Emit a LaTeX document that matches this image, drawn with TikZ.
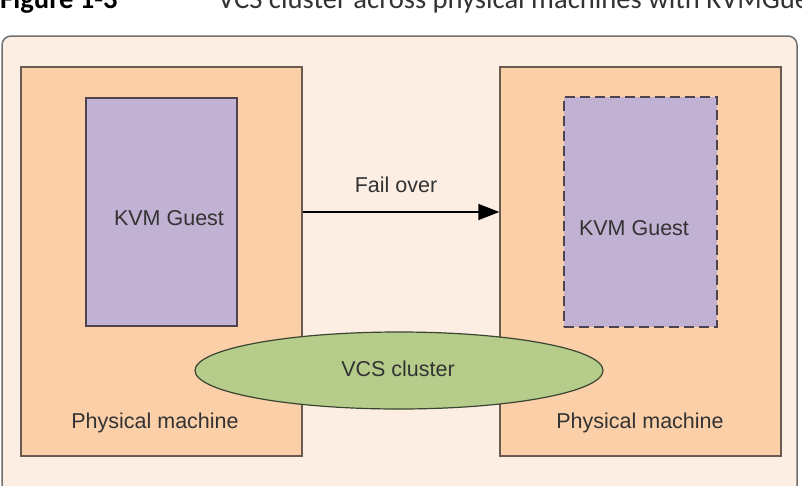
\documentclass[tikz,border=0pt]{standalone}
\usepackage{fontspec}
\setmainfont{Liberation Sans}
\newfontfamily\titlefont{Carlito}
\usetikzlibrary{shapes.geometric,arrows.meta}
\definecolor{bgpeach}{HTML}{FCEEE3}
\definecolor{pmfill}{HTML}{FBCFA8}
\definecolor{pmline}{HTML}{6A5A50}
\definecolor{guestfill}{HTML}{C1B1D2}
\definecolor{guestline}{HTML}{4E4450}
\definecolor{clfill}{HTML}{B6CC8A}
\definecolor{clline}{HTML}{3A4430}
\definecolor{txt}{HTML}{333333}
\definecolor{outline}{HTML}{707070}
\tikzset{
  lbl/.style={font=\fontsize{21.5}{26}\selectfont, text=txt, inner sep=0pt},
  pmbox/.style={draw=pmline, fill=pmfill, line width=1.3pt, rectangle, inner sep=0pt},
  guestbox/.style={draw=guestline, fill=guestfill, line width=1.3pt, rectangle, inner sep=0pt},
  guestdash/.style={guestbox, line width=2pt, dash pattern=on 10pt off 5pt},
  clusterell/.style={draw=clline, fill=clfill, line width=1.2pt, ellipse, inner sep=0pt},
  failarrow/.style={draw=black, line width=1.3pt, -{Triangle[length=21pt,width=16pt]}},
}
\begin{document}
\begin{tikzpicture}[x=1pt,y=-1pt]
\path[use as bounding box, clip] (0,0) rectangle (802,485);
\fill[white] (0,0) rectangle (802,485);
% title (clipped at top)
\node[anchor=base west, inner sep=0pt, font=\titlefont\bfseries\fontsize{28.6}{32}\selectfont, text=black] (fig) at (0,8) {Figure 1-3};
\node[anchor=base west, inner sep=0pt, font=\titlefont\fontsize{28.6}{32}\selectfont, text=txt] (title) at (218,8) {VCS cluster across physical machines with KVMGuest};
% outer frame
\draw[fill=bgpeach, draw=outline, line width=1.5pt, rounded corners=9pt] (2,36) rectangle (797,520);
% physical machines
\node[pmbox, minimum width=281pt, minimum height=389pt] (pmL) at (161.5,261.5) {};
\node[pmbox, minimum width=281pt, minimum height=389pt] (pmR) at (640.5,261.5) {};
% guests
\node[guestbox, minimum width=151pt, minimum height=228pt] (gL) at (161.5,212) {};
\node[guestdash, minimum width=153pt, minimum height=230pt] (gR) at (640.5,212) {};
\node[lbl] (gLt) at (169,218) {KVM Guest};
\node[lbl] (gRt) at (634,228) {KVM Guest};
% cluster
\node[clusterell, minimum width=408pt, minimum height=77pt] (cl) at (399,370.5) {};
\node[lbl] (clt) at (398,369) {VCS cluster};
% physical machine labels
\node[lbl] (pmLt) at (155,423) {Physical machine};
\node[lbl] (pmRt) at (640,423) {Physical machine};
% fail over arrow
\coordinate (ay) at (0,212);
\draw[failarrow] (pmL.east |- ay) -- (pmR.west |- ay);
\node[lbl] (fo) at (396,185) {Fail over};
\end{tikzpicture}
\end{document}
